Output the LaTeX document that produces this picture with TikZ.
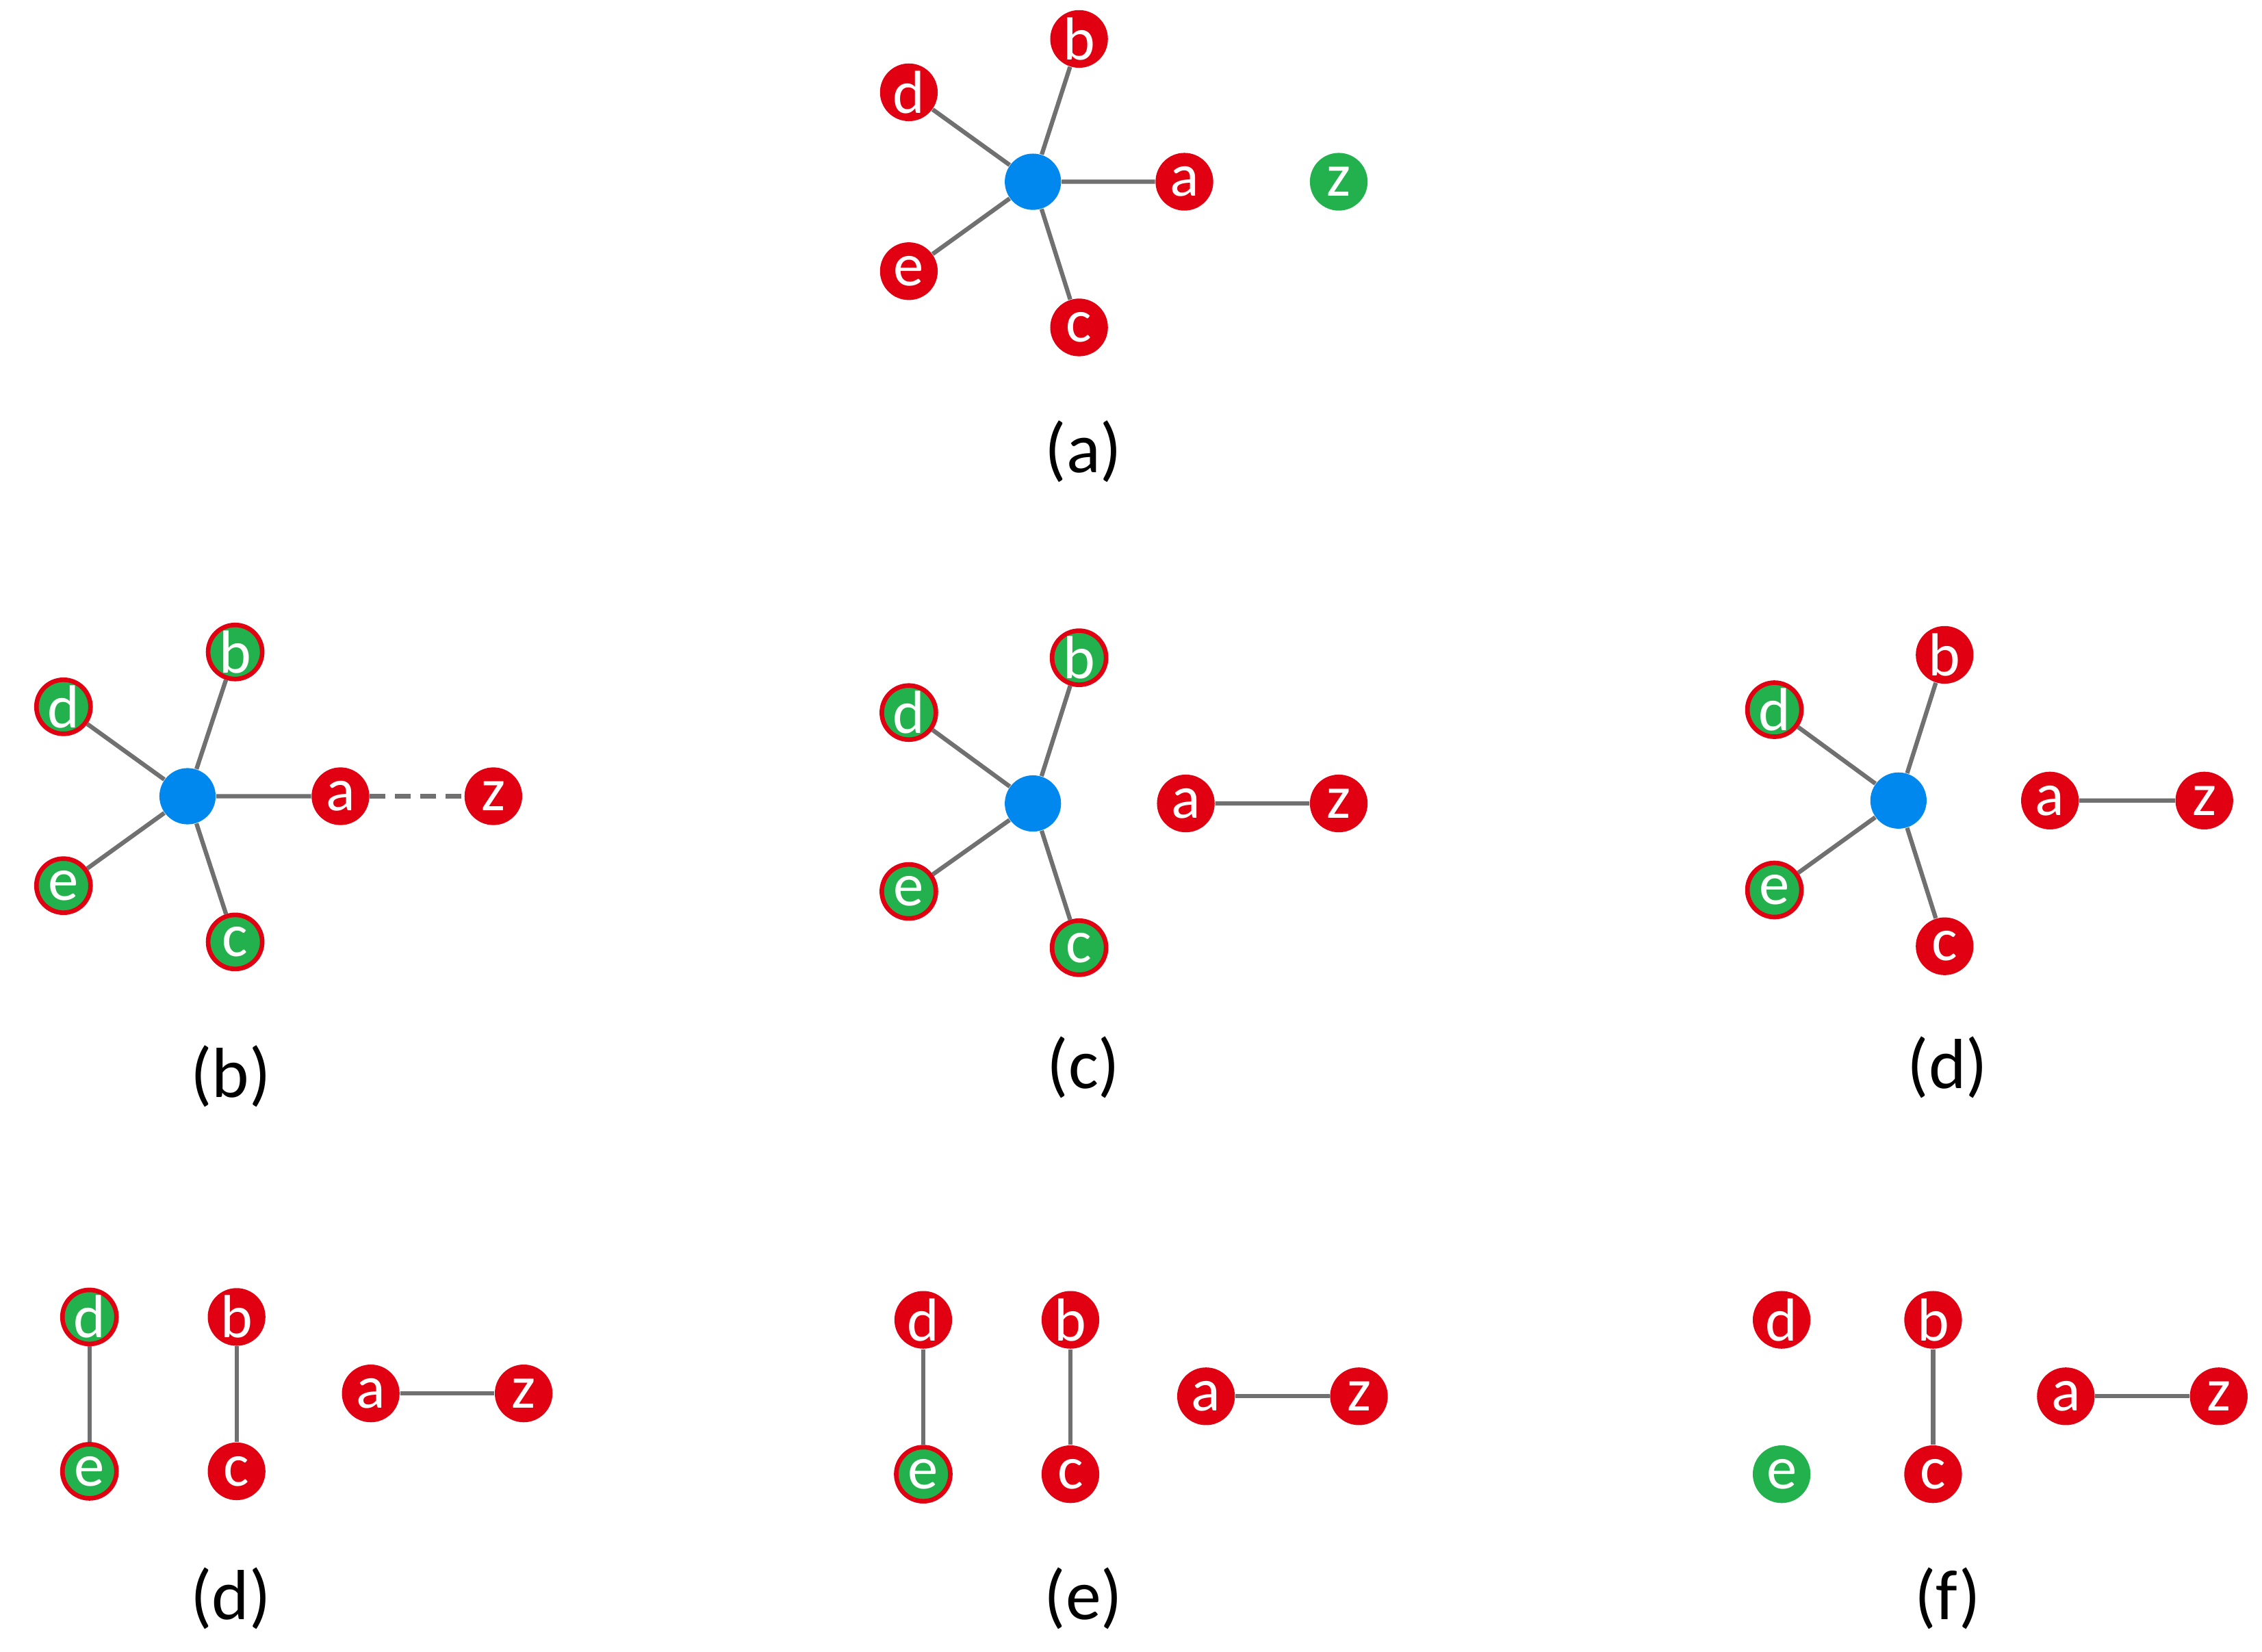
\documentclass[tikz,border=0pt]{standalone}
\usepackage{fontspec}
\setmainfont{Carlito}
\definecolor{nred}{HTML}{E00012}
\definecolor{ngreen}{HTML}{22B14C}
\definecolor{nblue}{HTML}{0088EE}
\definecolor{egray}{HTML}{707070}
\begin{document}
\begin{tikzpicture}[x=0.02cm,y=-0.02cm,
  n/.style={circle,inner sep=0pt,minimum size=0.8cm,text=white,font=\fontsize{24}{24}\selectfont},
  r/.style={n,fill=nred},
  gr/.style={n,fill=ngreen,draw=nred,line width=1.8pt,minimum size=0.75cm},
  g/.style={n,fill=ngreen},
  hub/.style={circle,fill=nblue,minimum size=0.78cm,inner sep=0pt},
  e/.style={draw=egray,line width=1.7pt},
  lab/.style={font=\fontsize{28}{28}\selectfont}]
\useasboundingbox (0,0) rectangle (1568,1145);
% (a)
\node[hub] (ah) at (716,126) {};
\node[r] (ab) at (748,27) {b};
\node[r] (ad) at (630,64) {d};
\node[r] (aa) at (821,126) {a};
\node[r] (ae) at (630,188) {e};
\node[r] (ac) at (748,227) {c};
\node[g] (az) at (928,126) {z};
\draw[e] (ah)--(ab) (ah)--(ad) (ah)--(aa) (ah)--(ae) (ah)--(ac);
\node[lab] (la) at (751,313) {(a)};
% (b)
\node[hub] (bh) at (130,552) {};
\node[gr] (bb) at (163,452) {b};
\node[gr] (bd) at (44,490) {d};
\node[r] (ba) at (236,552) {a};
\node[gr] (be) at (44,614) {e};
\node[gr] (bc) at (163,653) {c};
\node[r] (bz) at (342,552) {z};
\draw[e] (bh)--(bb) (bh)--(bd) (bh)--(ba) (bh)--(be) (bh)--(bc);
\draw[e,dash pattern=on 6pt off 4pt] (ba)--(bz);
\node[lab] (lb) at (160,746) {(b)};
% (c)
\node[hub] (ch) at (716,557) {};
\node[gr] (cb) at (748,456) {b};
\node[gr] (cd) at (630,494) {d};
\node[gr] (ce) at (630,618) {e};
\node[gr] (cc) at (748,657) {c};
\node[r] (ca) at (822,557) {a};
\node[r] (cz) at (928,557) {z};
\draw[e] (ch)--(cb) (ch)--(cd) (ch)--(ce) (ch)--(cc) (ca)--(cz);
\node[lab] (lc) at (751,740) {(c)};
% (d)
\node[hub] (dh) at (1316,555) {};
\node[r] (db) at (1348,454) {b};
\node[gr] (dd) at (1230,492) {d};
\node[gr] (de) at (1230,617) {e};
\node[r] (dc) at (1348,656) {c};
\node[r] (da) at (1421,555) {a};
\node[r] (dz) at (1528,555) {z};
\draw[e] (dh)--(db) (dh)--(dd) (dh)--(de) (dh)--(dc) (da)--(dz);
\node[lab] (ld) at (1350,740) {(d)};
% bottom (d)
\node[gr] (pd) at (62,913) {d};
\node[gr] (pe) at (62,1020) {e};
\node[r] (pb) at (164,913) {b};
\node[r] (pc) at (164,1020) {c};
\node[r] (pa) at (257,966) {a};
\node[r] (pz) at (363,966) {z};
\draw[e] (pd)--(pe) (pb)--(pc) (pa)--(pz);
\node[lab] (lp) at (160,1108) {(d)};
% (e)
\node[r] (qd) at (640,915) {d};
\node[gr] (qe) at (640,1022) {e};
\node[r] (qb) at (742,915) {b};
\node[r] (qc) at (742,1022) {c};
\node[r] (qa) at (836,968) {a};
\node[r] (qz) at (942,968) {z};
\draw[e] (qd)--(qe) (qb)--(qc) (qa)--(qz);
\node[lab] (lq) at (751,1108) {(e)};
% (f)
\node[r] (fd) at (1235,915) {d};
\node[g] (fe) at (1235,1022) {e};
\node[r] (fb) at (1340,915) {b};
\node[r] (fc) at (1340,1022) {c};
\node[r] (fa) at (1432,968) {a};
\node[r] (fz) at (1538,968) {z};
\draw[e] (fb)--(fc) (fa)--(fz);
\node[lab] (lf) at (1350,1108) {(f)};
\end{tikzpicture}
\end{document}
